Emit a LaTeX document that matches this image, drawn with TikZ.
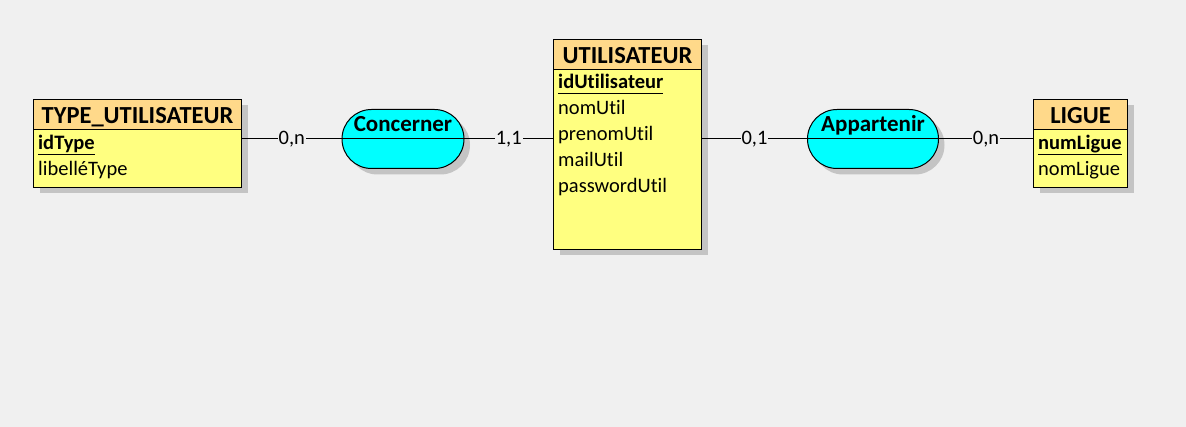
\documentclass[tikz,border=0pt]{standalone}
\usepackage{fontspec}
\setmainfont{Carlito}[Ligatures=NoCommon]
\usepackage{tikz}
\usetikzlibrary{shadows}
\definecolor{fond}{HTML}{F0F0F0}
\definecolor{entete}{HTML}{FFD98A}
\definecolor{corps}{HTML}{FFFF80}
\definecolor{assoc}{HTML}{00FFFF}
\definecolor{ombre}{HTML}{C4C4C4}
\newcommand{\cle}[1]{\setbox0=\hbox{\bfseries #1}\rlap{\rule[-5.5pt]{\wd0}{1pt}}\box0}

\begin{document}
\begin{tikzpicture}[x=1pt,y=-1pt,
  ombrage/.style={drop shadow={shadow xshift=6pt,shadow yshift=-6pt,fill=ombre,opacity=1}},
  trait/.style={line width=1pt},
  corpsent/.style={draw,line width=1pt,fill=corps,ombrage,anchor=north west,inner sep=0pt},
  titre/.style={draw,line width=1pt,fill=entete,anchor=north west,inner sep=0pt,minimum height=30pt,text height=18pt,text depth=0pt,font=\fontsize{24.5}{28}\selectfont\bfseries},
  attr/.style={anchor=base west,inner sep=0pt,font=\fontsize{20.5}{24}\selectfont},
  relation/.style={draw,line width=1pt,fill=assoc,ombrage,rounded corners=29.5pt,minimum height=59pt,inner sep=0pt,text height=0pt,text depth=14.6pt,font=\fontsize{23}{27}\selectfont\bfseries},
  card/.style={fill=fond,inner xsep=1pt,inner ysep=0pt,text height=11pt,text depth=0pt,font=\fontsize{20.5}{24}\selectfont}]
  \fill[fond] (0,0) rectangle (1186,427);
  \useasboundingbox (0,0) rectangle (1186,427);
  % entites
  \node[corpsent,minimum width=208pt,minimum height=88pt] (typeutil) at (33,99) {};
  \node[titre,minimum width=208pt] (typeutil-t) at (typeutil.north west) {TYPE\_UTILISATEUR};
  \node[attr] (idtype) at (38,150) {\cle{idType}};
  \node[attr] (libtype) at (38,176) {libelléType};

  \node[corpsent,minimum width=148pt,minimum height=210pt] (util) at (553,39) {};
  \node[titre,minimum width=148pt] (util-t) at (util.north west) {UTILISATEUR};
  \node[attr] (idutil) at (558,89) {\cle{idUtilisateur}};
  \node[attr] (nomutil) at (558,115) {nomUtil};
  \node[attr] (prenomutil) at (558,141) {prenomUtil};
  \node[attr] (mailutil) at (558,167) {mailUtil};
  \node[attr] (pwdutil) at (558,193) {passwordUtil};

  \node[corpsent,minimum width=94pt,minimum height=88pt] (ligue) at (1033,99) {};
  \node[titre,minimum width=94pt] (ligue-t) at (ligue.north west) {LIGUE};
  \node[attr] (numligue) at (1038,150) {\cle{numLigue}};
  \node[attr] (nomligue) at (1038,176) {nomLigue};
  % associations
  \node[relation,minimum width=122pt] (concerner) at (403,139) {Concerner};
  \draw[trait] (concerner.west) -- (concerner.east);
  \node[relation,minimum width=131pt] (appartenir) at (873,139) {Appartenir};
  \draw[trait] (appartenir.west) -- (appartenir.east);
  % pattes
  \draw[trait] (concerner.west) -- node[card] {0,n} (concerner.west -| typeutil.east);
  \draw[trait] (concerner.east) -- node[card] {1,1} (concerner.east -| util.west);
  \draw[trait] (appartenir.west) -- node[card] {0,1} (appartenir.west -| util.east);
  \draw[trait] (appartenir.east) -- node[card] {0,n} (appartenir.east -| ligue.west);
\end{tikzpicture}
\end{document}
